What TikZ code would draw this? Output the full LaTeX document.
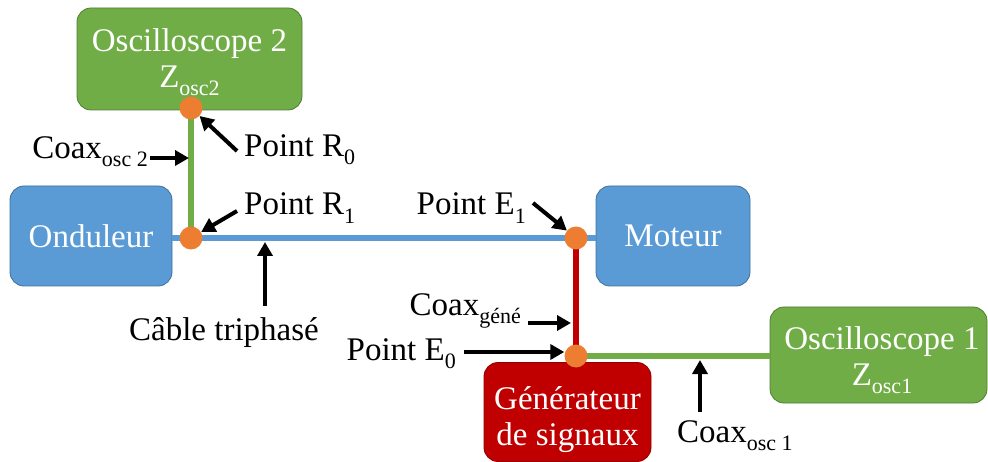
\documentclass[tikz,border=0pt]{standalone}
\usepackage{fontspec}
\setmainfont{Liberation Serif}
\usetikzlibrary{arrows.meta}
\definecolor{cblue}{HTML}{5B9BD5}
\definecolor{cblueb}{HTML}{41719C}
\definecolor{cgreen}{HTML}{70AD47}
\definecolor{cgreenb}{HTML}{507E32}
\definecolor{cred}{HTML}{C00000}
\definecolor{credb}{HTML}{8F0000}
\definecolor{corange}{HTML}{ED7D31}
\newcommand\lowsub[1]{\raisebox{-0.25em}{\fontsize{22}{22}\selectfont #1}}
\tikzset{
  box/.style={rounded corners=14pt, line width=0.8pt, text=white, align=center,
    font=\fontsize{33}{39}\selectfont, inner sep=0pt},
  boxtext/.style={text=white, align=center, font=\fontsize{33}{39}\selectfont, inner sep=0pt},
  bluebox/.style={box, fill=cblue, draw=cblueb},
  greenbox/.style={box, fill=cgreen, draw=cgreenb},
  redbox/.style={box, fill=cred, draw=credb},
  dot/.style={circle, fill=corange, minimum size=23pt, inner sep=0pt},
  wire/.style={line width=5.5pt},
  lbl/.style={font=\fontsize{33}{38}\selectfont, inner sep=0pt},
  pointer/.style={line width=4pt, -{Triangle[length=14pt,width=15pt]}},
}
\begin{document}
\begin{tikzpicture}[x=1pt,y=-1pt]
\useasboundingbox (0,0) rectangle (988,462);
% boxes
\node[greenbox, minimum width=225pt, minimum height=102pt] (osc2) at (189.5,59) {};
\node[boxtext] (osc2t) at (189.5,62) {Oscilloscope 2\\[-3pt]Z\lowsub{osc2}};
\node[bluebox, minimum width=162pt, minimum height=100pt] (ond) at (91,236) {Onduleur};
\node[bluebox, minimum width=154pt, minimum height=100pt] (mot) at (673,236) {Moteur};
\node[redbox, minimum width=167pt, minimum height=99pt] (gen) at (567.5,412) {};
\node[boxtext] (gent) at (567.5,420) {Générateur\\[-3pt]de signaux};
\node[greenbox, minimum width=217pt, minimum height=96pt] (osc1) at (878.5,355) {};
\node[boxtext] (osc1t) at (882,360) {Oscilloscope 1\\[-3pt]Z\lowsub{osc1}};
% junction points
\coordinate (R0) at (191,108);
\coordinate (R1) at (191,238);
\coordinate (E1) at (576,238);
\coordinate (E0) at (576,356);
% wires
\draw[wire, cblue] (ond.east |- R1) -- (mot.west |- E1);
\draw[wire, cgreen] (R0) -- (R1);
\draw[wire, cred] (E1) -- (E0);
\draw[wire, cgreen] (E0) -- (osc1.west |- E0);
% dots
\node[dot] (dR0) at (R0) {};
\node[dot] (dR1) at (R1) {};
\node[dot] (dE1) at (E1) {};
\node[dot] (dE0) at (E0) {};
% labels
\node[lbl, anchor=east] (lco2) at (148,152) {Coax\lowsub{osc 2}};
\node[lbl, anchor=west] (lR0) at (244,150) {Point R\lowsub{0}};
\node[lbl, anchor=west] (lR1) at (244,208) {Point R\lowsub{1}};
\node[lbl] (lcab) at (224,333) {Câble triphasé};
\node[lbl, anchor=east] (lE1) at (526,208) {Point E\lowsub{1}};
\node[lbl, anchor=east] (lcog) at (521,311) {Coax\lowsub{géné}};
\node[lbl, anchor=east] (lE0) at (456,354) {Point E\lowsub{0}};
\node[lbl, anchor=west] (lco1) at (677,436) {Coax\lowsub{osc 1}};
% pointer arrows
\coordinate (a1) at (150,158);
\coordinate (a1e) at (189,158);
\coordinate (a2) at (237,151);
\coordinate (a3) at (237,211);
\coordinate (a4) at (265,306);
\coordinate (a4e) at (265,242);
\coordinate (a5) at (533,203);
\coordinate (a6) at (528,323);
\coordinate (a6e) at (571,323);
\coordinate (a7) at (464,352);
\coordinate (a8) at (700,412);
\coordinate (a8e) at (700,360);
\draw[pointer] (a1) -- (a1e);
\draw[pointer] (a2) -- (dR0);
\draw[pointer] (a3) -- (dR1);
\draw[pointer] (a4) -- (a4e);
\draw[pointer] (a5) -- (dE1);
\draw[pointer] (a6) -- (a6e);
\draw[pointer] (a7) -- (dE0.west |- a7);
\draw[pointer] (a8) -- (a8e);
\end{tikzpicture}
\end{document}
